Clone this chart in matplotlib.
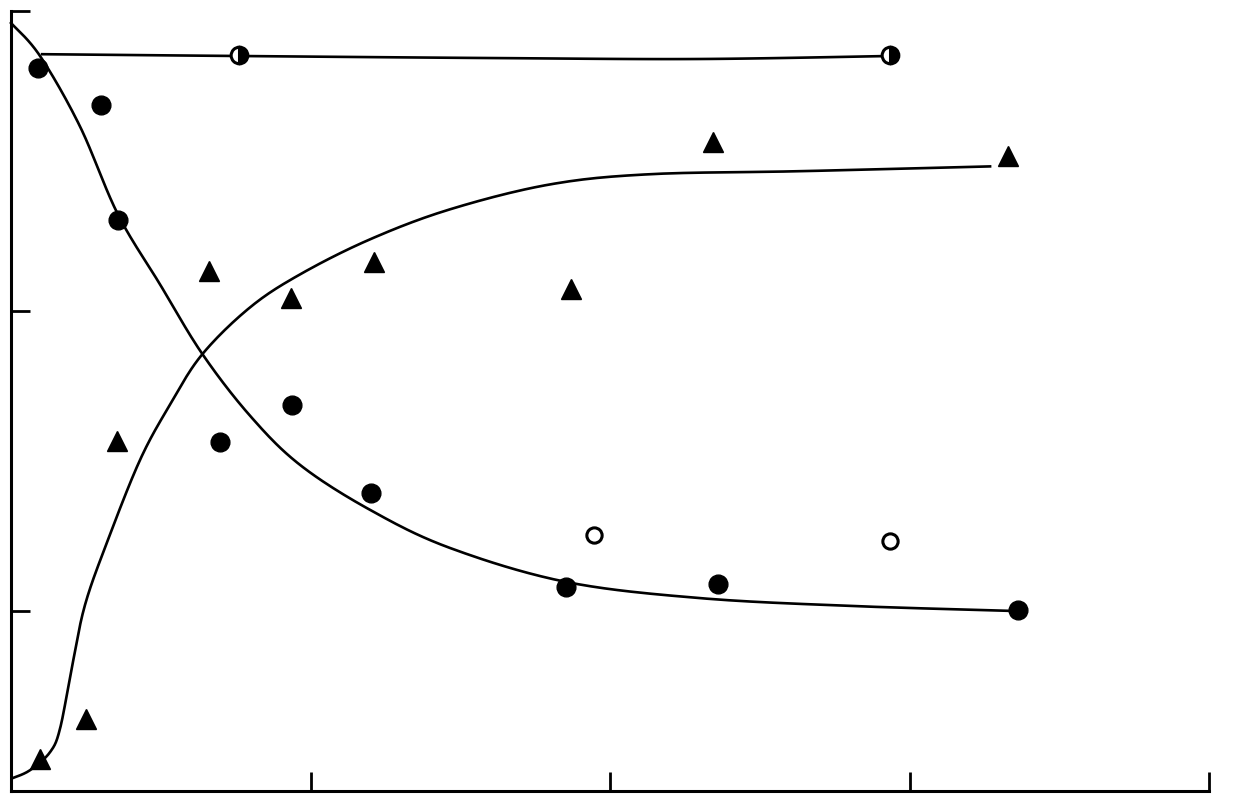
import numpy as np
import matplotlib.pyplot as plt

# filled circles
circ_x = [0.090, 0.300, 0.357, 0.698, 0.938, 1.202, 1.853, 2.361, 3.362]
circ_y = [2.810, 2.686, 2.302, 1.564, 1.688, 1.394, 1.080, 1.090, 1.003]

# open circles
open_x = [1.947, 2.935]
open_y = [1.254, 1.234]

# half-filled circles
half_x = [0.761, 2.935]
half_y = [2.853, 2.853]

# triangles
tri_x = [0.097, 0.250, 0.354, 0.661, 0.935, 1.212, 1.870, 2.344, 3.329]
tri_y = [0.506, 0.639, 1.568, 2.132, 2.045, 2.162, 2.075, 2.563, 2.516]

# drawn curves
dec_x = [0.0, 0.097, 0.230, 0.357, 0.498, 0.638, 0.798, 0.965, 1.199, 1.466,
         1.853, 2.300, 2.801, 3.352]
dec_y = [2.960, 2.850, 2.616, 2.322, 2.088, 1.858, 1.651, 1.487, 1.337, 1.210,
         1.097, 1.043, 1.017, 1.000]

inc_x = [0.003, 0.063, 0.130, 0.164, 0.204, 0.247, 0.321, 0.431, 0.531, 0.638,
         0.798, 0.965, 1.199, 1.466, 1.800, 2.134, 2.634, 3.269]
inc_y = [0.442, 0.469, 0.529, 0.609, 0.816, 1.020, 1.230, 1.504, 1.688, 1.855,
         2.012, 2.122, 2.239, 2.339, 2.422, 2.456, 2.466, 2.482]

flat_x = [0.104, 0.761, 1.633, 2.300, 2.935]
flat_y = [2.856, 2.850, 2.843, 2.840, 2.850]


def smooth(xs, ys, n=20):
    # catmull-rom through the knots, only to draw a smooth pen line
    p = np.column_stack([xs, ys])
    p = np.vstack([p[0], p, p[-1]])
    out = []
    for i in range(1, len(p) - 2):
        p0, p1, p2, p3 = p[i - 1], p[i], p[i + 1], p[i + 2]
        t = np.linspace(0, 1, n, endpoint=False)[:, None]
        out.append(0.5 * (2 * p1 + (-p0 + p2) * t
                          + (2 * p0 - 5 * p1 + 4 * p2 - p3) * t ** 2
                          + (-p0 + 3 * p1 - 3 * p2 + p3) * t ** 3))
    out.append(p[-2][None, :])
    out = np.vstack(out)
    return out[:, 0], out[:, 1]


fig = plt.figure(figsize=(12.47, 8.06), dpi=100)
ax = fig.add_axes([11/1247, 15/806, 1198/1247, 780/806])

for cx, cy in [(dec_x, dec_y), (inc_x, inc_y), (flat_x, flat_y)]:
    sx, sy = smooth(cx, cy)
    ax.plot(sx, sy, color='black', lw=1.9, clip_on=False)

ax.plot(circ_x, circ_y, 'o', color='black', ms=13.5, clip_on=False)
ax.plot(tri_x, tri_y, '^', color='black', ms=14, clip_on=False)
ax.plot(open_x, open_y, 'o', mfc='white', mec='black', mew=2.2, ms=11, clip_on=False)
ax.plot(half_x, half_y, 'o', color='black', fillstyle='right', mfc='black',
        mfcalt='white', mec='black', mew=2.2, ms=12, clip_on=False, zorder=5)

ax.set_xlim(0, 4)
ax.set_ylim(0.4, 3.0)
ax.set_xticks([1, 2, 3, 4])
ax.set_yticks([1, 2, 3])
ax.tick_params(direction='in', length=14, width=2, labelbottom=False, labelleft=False)
for s in ['top', 'right']:
    ax.spines[s].set_visible(False)
for s in ['left', 'bottom']:
    ax.spines[s].set_linewidth(2.2)

fig.savefig('out.png', dpi=100)
